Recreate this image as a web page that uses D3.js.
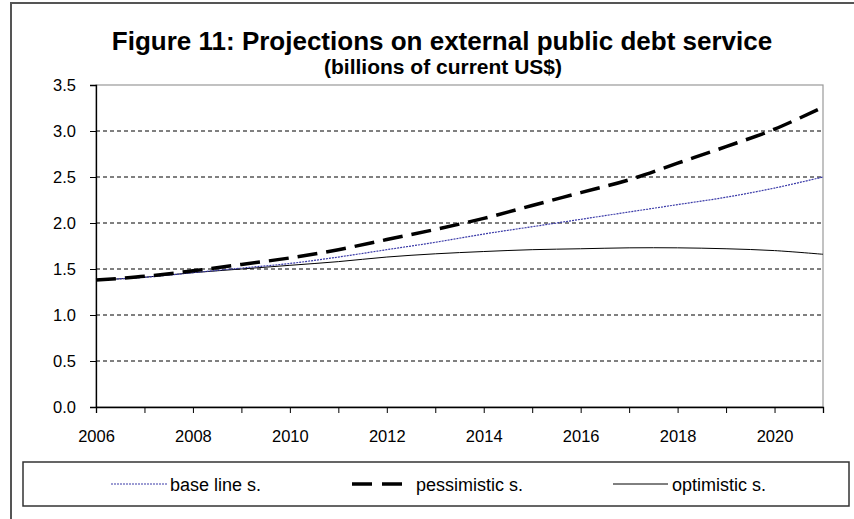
<!DOCTYPE html>
<html><head><meta charset="utf-8">
<script src="https://cdn.jsdelivr.net/npm/d3@7"></script>
<style>html,body{margin:0;padding:0;background:#fff;}svg{display:block;font-family:"Liberation Sans",Arial,sans-serif;}</style>
</head><body>
<script>
const years = [2006,2007,2008,2009,2010,2011,2012,2013,2014,2015,2016,2017,2018,2019,2020,2021];
const baseLine    = [1.38,1.41,1.46,1.51,1.56,1.63,1.71,1.79,1.88,1.96,2.04,2.12,2.20,2.28,2.38,2.50];
const pessimistic = [1.38,1.42,1.48,1.55,1.62,1.71,1.82,1.93,2.05,2.19,2.33,2.47,2.65,2.83,3.02,3.26];
const optimistic  = [1.38,1.41,1.46,1.50,1.54,1.58,1.63,1.665,1.69,1.71,1.72,1.73,1.73,1.72,1.70,1.66];
const yTicks = [0,0.5,1.0,1.5,2.0,2.5,3.0,3.5];
const xLabelYears = [2006,2008,2010,2012,2014,2016,2018,2020];
const seriesNames = ["base line s.","pessimistic s.","optimistic s."];
const titleText = "Figure 11: Projections on external public debt service";
const subtitleText = "(billions of current US$)";

const W = 854, H = 519;
const svg = d3.select("body").append("svg").attr("width", W).attr("height", H);

// outer frame
svg.append("rect").attr("x",11).attr("y",3).attr("width",W).attr("height",H+10)
  .attr("fill","#fff").attr("stroke","#555").attr("stroke-width",2);

const L = 96, R = 823, T = 85, B = 407;
const x = d3.scaleLinear().domain([2006,2021]).range([L,R]);
const y = d3.scaleLinear().domain([0,3.5]).range([B,T]);

svg.append("text").attr("x",442).attr("y",50).attr("text-anchor","middle")
  .attr("font-size",26).attr("font-weight","bold").text(titleText);
svg.append("text").attr("x",443).attr("y",74).attr("text-anchor","middle")
  .attr("font-size",21).attr("font-weight","bold").text(subtitleText);

// plot border (grey)
svg.append("rect").attr("x",L).attr("y",T).attr("width",R-L).attr("height",B-T)
  .attr("fill","none").attr("stroke","#999").attr("stroke-width",1.2);

// gridlines
svg.append("g").selectAll("line").data(yTicks.filter(v=>v>0 && v<3.5)).join("line")
  .attr("x1",L).attr("x2",R).attr("y1",d=>y(d)).attr("y2",d=>y(d))
  .attr("stroke","#000").attr("stroke-width",1).attr("stroke-dasharray","4,3");

// axes
const yAxis = d3.axisLeft(y).tickValues(yTicks).tickFormat(d3.format(".1f")).tickSize(6).tickPadding(14);
const gy = svg.append("g").attr("transform",`translate(${L},0)`).call(yAxis);
const xAxis = d3.axisBottom(x).tickValues(years).tickFormat(d=> xLabelYears.includes(d) ? String(d) : "").tickSize(6).tickPadding(17);
const gx = svg.append("g").attr("transform",`translate(0,${B})`).call(xAxis);
[gx,gy].forEach(g=>{
  g.attr("font-size",16.5).attr("font-family","Liberation Sans, Arial, sans-serif");
  g.select(".domain").attr("stroke","#000").attr("stroke-width",1.3);
  g.selectAll(".tick line").attr("stroke","#000");
  g.selectAll("text").attr("fill","#000");
});

const line = d3.line().x((d,i)=>x(years[i])).y(d=>y(d)).curve(d3.curveCatmullRom.alpha(0.5));

svg.append("path").datum(optimistic).attr("d",line).attr("fill","none")
  .attr("stroke","#000").attr("stroke-width",1);
svg.append("path").datum(baseLine).attr("d",line).attr("fill","none")
  .attr("stroke","#3a3aa8").attr("stroke-width",1.2).attr("stroke-dasharray","2,1");
svg.append("path").datum(pessimistic).attr("d",line).attr("fill","none")
  .attr("stroke","#000").attr("stroke-width",3.5).attr("stroke-dasharray","20,9");

// legend
svg.append("rect").attr("x",23).attr("y",462).attr("width",826).attr("height",44)
  .attr("fill","#fff").attr("stroke","#333").attr("stroke-width",1.5);
const leg = [
  {name:seriesNames[0], x1:111, x2:167, tx:170, color:"#3a3aa8", w:1.2, dash:"2,1"},
  {name:seriesNames[1], x1:352, x2:402, tx:416, color:"#000", w:3.5, dash:"20,10"},
  {name:seriesNames[2], x1:613, x2:668, tx:672, color:"#000", w:1, dash:null}
];
const lg = svg.append("g").selectAll("g").data(leg).join("g");
lg.append("line").attr("x1",d=>d.x1).attr("x2",d=>d.x2).attr("y1",484).attr("y2",484)
  .attr("stroke",d=>d.color).attr("stroke-width",d=>d.w).attr("stroke-dasharray",d=>d.dash);
lg.append("text").attr("x",d=>d.tx).attr("y",491).attr("font-size",18).text(d=>d.name);
</script>
</body></html>
